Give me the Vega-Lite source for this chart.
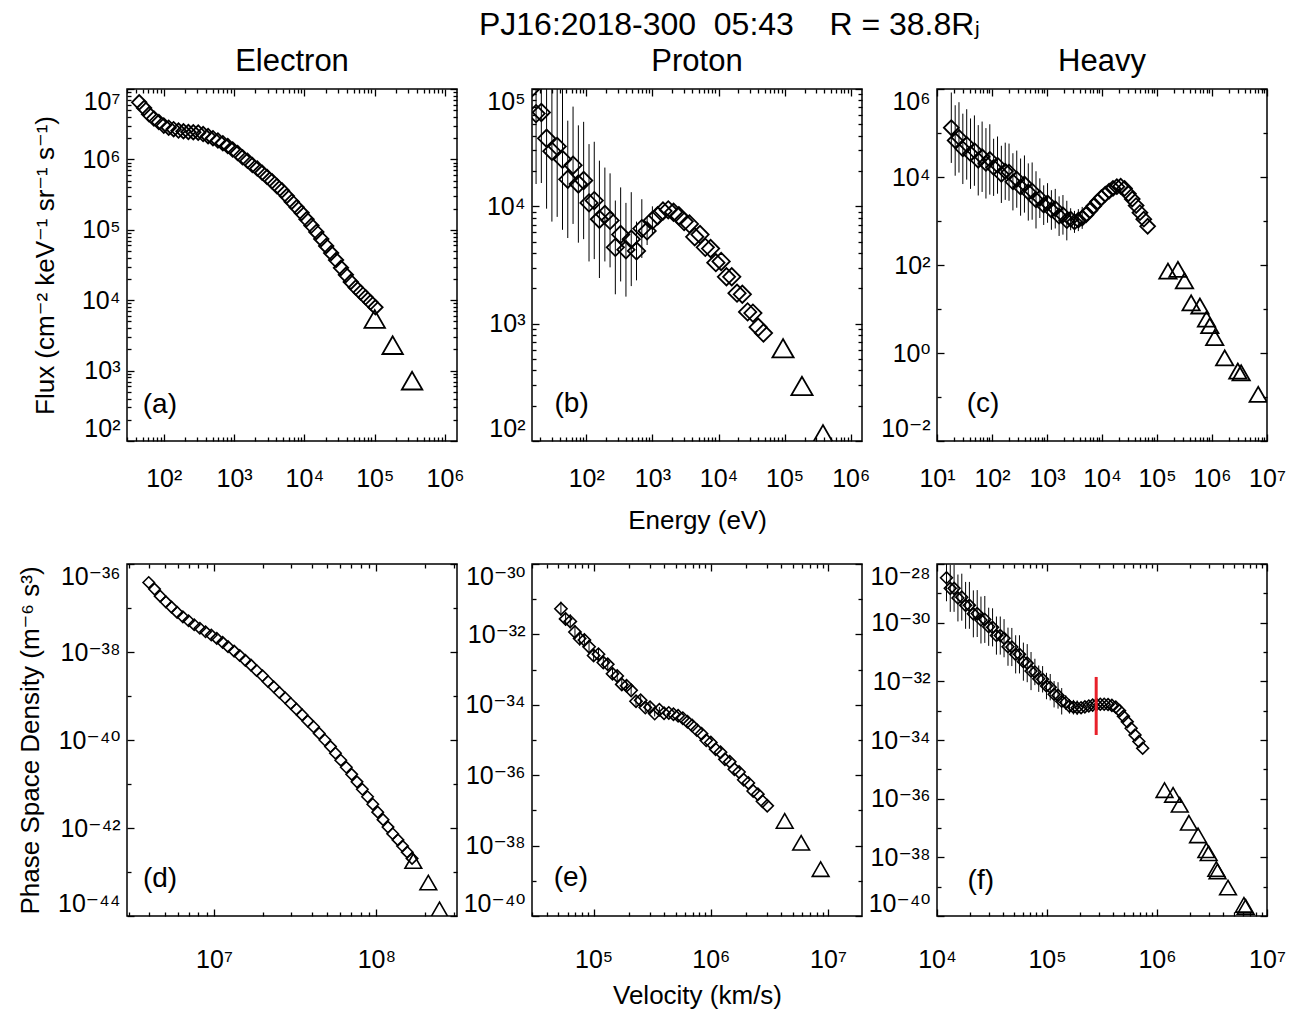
{
"$schema": "https://vega.github.io/schema/vega-lite/v6.json",
"background": "white",
"padding": {"left": 16, "top": 9, "right": 5, "bottom": 5},
"title": {"text": "PJ16:2018-300\u00a0\u00a005:43\u00a0\u00a0\u00a0\u00a0R = 38.8Rⱼ", "fontSize": 32, "fontWeight": "normal", "color": "black", "anchor": "middle", "offset": 3, "dx": 78},
"datasets": {
"el": [
{"E":44.7,"j":6.46e6,"v":3.96e6,"f":3.80e-37},{"E":52.5,"j":5.37e6,"v":4.30e6,"f":2.69e-37},{"E":61.7,"j":4.37e6,"v":4.66e6,"f":1.86e-37},{"E":72.4,"j":3.80e6,"v":5.05e6,"f":1.38e-37},{"E":85.1,"j":3.39e6,"v":5.47e6,"f":1.05e-37},{"E":100,"j":3.02e6,"v":5.93e6,"f":7.94e-38},{"E":117.5,"j":2.82e6,"v":6.43e6,"f":6.31e-38},{"E":138,"j":2.69e6,"v":6.97e6,"f":5.13e-38},{"E":162,"j":2.57e6,"v":7.55e6,"f":4.17e-38},{"E":190.5,"j":2.51e6,"v":8.18e6,"f":3.47e-38},{"E":224,"j":2.45e6,"v":8.87e6,"f":2.88e-38},{"E":263,"j":2.43e6,"v":9.62e6,"f":2.43e-38},{"E":309,"j":2.40e6,"v":1.04e7,"f":2.04e-38},{"E":363,"j":2.29e6,"v":1.13e7,"f":1.66e-38},{"E":427,"j":2.14e6,"v":1.22e7,"f":1.32e-38},{"E":501,"j":2.00e6,"v":1.33e7,"f":1.05e-38},{"E":589,"j":1.86e6,"v":1.44e7,"f":8.32e-39},{"E":692,"j":1.70e6,"v":1.56e7,"f":6.46e-39},{"E":813,"j":1.55e6,"v":1.69e7,"f":5.01e-39},{"E":955,"j":1.38e6,"v":1.83e7,"f":3.80e-39},{"E":1122,"j":1.23e6,"v":1.99e7,"f":2.88e-39},{"E":1318,"j":1.07e6,"v":2.15e7,"f":2.14e-39},{"E":1549,"j":9.55e5,"v":2.33e7,"f":1.62e-39},{"E":1820,"j":8.32e5,"v":2.53e7,"f":1.20e-39},{"E":2138,"j":7.41e5,"v":2.74e7,"f":9.12e-40},{"E":2512,"j":6.46e5,"v":2.97e7,"f":6.76e-40},{"E":2951,"j":5.62e5,"v":3.22e7,"f":5.01e-40},{"E":3467,"j":4.90e5,"v":3.49e7,"f":3.72e-40},{"E":4074,"j":4.17e5,"v":3.78e7,"f":2.69e-40},{"E":4786,"j":3.63e5,"v":4.10e7,"f":2.00e-40},{"E":5623,"j":3.02e5,"v":4.45e7,"f":1.41e-40},{"E":6607,"j":2.51e5,"v":4.82e7,"f":1.00e-40},{"E":7762,"j":2.09e5,"v":5.22e7,"f":7.08e-41},{"E":9120,"j":1.74e5,"v":5.60e7,"f":5.01e-41},{"E":10715,"j":1.41e5,"v":6.04e7,"f":3.47e-41},{"E":12589,"j":1.15e5,"v":6.53e7,"f":2.40e-41},{"E":14791,"j":9.33e4,"v":7.05e7,"f":1.66e-41},{"E":17378,"j":7.41e4,"v":7.60e7,"f":1.12e-41},{"E":20417,"j":5.89e4,"v":8.20e7,"f":7.59e-42},{"E":23988,"j":4.68e4,"v":8.83e7,"f":5.13e-42},{"E":28184,"j":3.72e4,"v":9.51e7,"f":3.47e-42},{"E":33113,"j":2.88e4,"v":1.02e8,"f":2.29e-42},{"E":38905,"j":2.29e4,"v":1.10e8,"f":1.55e-42},{"E":45709,"j":1.82e4,"v":1.18e8,"f":1.05e-42},{"E":53703,"j":1.51e4,"v":1.26e8,"f":7.41e-43},{"E":63096,"j":1.29e4,"v":1.36e8,"f":5.37e-43},{"E":74131,"j":1.10e4,"v":1.45e8,"f":3.89e-43},{"E":87096,"j":9.33e3,"v":1.55e8,"f":2.82e-43},{"E":102329,"j":7.94e3,"v":1.66e8,"f":2.04e-43}
],
"elt": [
{"E":1.0e5,"j":5.4e3,"v":1.69e8,"f":1.78e-43},{"E":1.8e5,"j":2.3e3,"v":2.09e8,"f":5.75e-44},{"E":3.4e5,"j":7.2e2,"v":2.45e8,"f":1.41e-44}
],
"pr": [
{"E":14.5,"j":1.00e5,"jl":2.51e4,"jh":3.98e5,"v":5.26e4,"f":5.37e-32,"fl":3.39e-32,"fh":8.51e-32},
{"E":17.4,"j":6.17e4,"jl":1.55e4,"jh":2.45e5,"v":5.77e4,"f":2.75e-32,"fl":1.74e-32,"fh":4.37e-32},
{"E":20.9,"j":6.31e4,"jl":1.58e4,"jh":2.51e5,"v":6.32e4,"f":2.34e-32,"fl":1.48e-32,"fh":3.72e-32},
{"E":25.1,"j":3.80e4,"jl":9.55e3,"jh":1.51e5,"v":6.93e4,"f":1.17e-32,"fl":7.41e-33,"fh":1.86e-32},
{"E":30.2,"j":2.95e4,"jl":7.41e3,"jh":1.17e5,"v":7.60e4,"f":7.59e-33,"fl":4.79e-33,"fh":1.20e-32},
{"E":36.3,"j":3.24e4,"jl":8.13e3,"jh":1.29e5,"v":8.34e4,"f":6.92e-33,"fl":4.37e-33,"fh":1.10e-32},
{"E":43.7,"j":2.51e4,"jl":6.31e3,"jh":1.00e5,"v":9.14e4,"f":4.47e-33,"fl":2.82e-33,"fh":7.08e-33},
{"E":52.5,"j":1.70e4,"jl":5.37e3,"jh":5.37e4,"v":1.00e5,"f":2.51e-33,"fl":1.70e-33,"fh":3.72e-33},
{"E":63.1,"j":2.24e4,"jl":7.08e3,"jh":7.08e4,"v":1.10e5,"f":2.75e-33,"fl":1.86e-33,"fh":4.07e-33},
{"E":75.9,"j":1.55e4,"jl":4.90e3,"jh":4.90e4,"v":1.21e5,"f":1.58e-33,"fl":1.07e-33,"fh":2.34e-33},
{"E":91.2,"j":1.66e4,"jl":5.25e3,"jh":5.25e4,"v":1.32e5,"f":1.41e-33,"fl":9.55e-34,"fh":2.09e-33},
{"E":110,"j":1.07e4,"jl":3.39e3,"jh":3.39e4,"v":1.45e5,"f":7.59e-34,"fl":5.13e-34,"fh":1.12e-33},
{"E":132,"j":1.12e4,"jl":3.55e3,"jh":3.55e4,"v":1.59e5,"f":6.61e-34,"fl":4.47e-34,"fh":9.77e-34},
{"E":158,"j":7.76e3,"jl":2.45e3,"jh":2.45e4,"v":1.74e5,"f":3.80e-34,"fl":2.57e-34,"fh":5.62e-34},
{"E":191,"j":8.51e3,"jl":3.39e3,"jh":2.14e4,"v":1.91e5,"f":3.47e-34,"fl":2.57e-34,"fh":4.68e-34},
{"E":229,"j":7.59e3,"jl":3.02e3,"jh":1.91e4,"v":2.09e5,"f":2.57e-34,"fl":1.91e-34,"fh":3.47e-34},
{"E":275,"j":4.47e3,"jl":1.78e3,"jh":1.12e4,"v":2.30e5,"f":1.26e-34,"fl":9.33e-35,"fh":1.70e-34},
{"E":331,"j":5.75e3,"jl":2.29e3,"jh":1.45e4,"v":2.52e5,"f":1.35e-34,"fl":1.00e-34,"fh":1.82e-34},
{"E":398,"j":4.27e3,"jl":1.70e3,"jh":1.07e4,"v":2.76e5,"f":8.32e-35,"fl":6.17e-35,"fh":1.12e-34},
{"E":479,"j":5.25e3,"jl":2.09e3,"jh":1.32e4,"v":3.03e5,"f":8.51e-35,"fl":6.31e-35,"fh":1.15e-34},
{"E":575,"j":4.17e3,"jl":2.34e3,"jh":7.41e3,"v":3.32e5,"f":5.62e-35,"fl":4.68e-35,"fh":6.76e-35},
{"E":692,"j":6.46e3,"jl":3.63e3,"jh":1.15e4,"v":3.64e5,"f":7.24e-35,"fl":6.03e-35,"fh":8.71e-35},
{"E":832,"j":6.17e3,"jl":4.68e3,"jh":8.13e3,"v":3.99e5,"f":5.75e-35,"fl":5.13e-35,"fh":6.46e-35},
{"E":1000,"j":7.59e3,"jl":5.75e3,"jh":1.00e4,"v":4.38e5,"f":5.89e-35,"fl":5.25e-35,"fh":6.61e-35},
{"E":1202,"j":8.32e3,"v":4.80e5,"f":5.37e-35},{"E":1445,"j":9.12e3,"v":5.26e5,"f":4.90e-35},{"E":1738,"j":9.33e3,"v":5.77e5,"f":4.17e-35},{"E":2089,"j":8.91e3,"v":6.32e5,"f":3.31e-35},{"E":2512,"j":8.32e3,"v":6.93e5,"f":2.57e-35},{"E":3020,"j":7.41e3,"v":7.60e5,"f":1.91e-35},{"E":3631,"j":7.08e3,"v":8.34e5,"f":1.51e-35},{"E":4365,"j":5.50e3,"v":9.14e5,"f":9.77e-36},{"E":5248,"j":5.75e3,"v":1.00e6,"f":8.51e-36},{"E":6310,"j":4.47e3,"v":1.10e6,"f":5.50e-36},{"E":7586,"j":4.37e3,"v":1.21e6,"f":4.47e-36},{"E":9120,"j":3.31e3,"v":1.32e6,"f":2.82e-36},{"E":10965,"j":3.39e3,"v":1.45e6,"f":2.40e-36},{"E":13183,"j":2.51e3,"v":1.59e6,"f":1.48e-36},{"E":15849,"j":2.51e3,"v":1.74e6,"f":1.23e-36},{"E":19055,"j":1.82e3,"v":1.91e6,"f":7.41e-37},{"E":22909,"j":1.78e3,"v":2.09e6,"f":6.03e-37},{"E":27542,"j":1.26e3,"v":2.30e6,"f":3.55e-37},{"E":33113,"j":1.23e3,"v":2.52e6,"f":2.88e-37},{"E":39811,"j":933,"v":2.76e6,"f":1.82e-37},{"E":47863,"j":832,"v":3.03e6,"f":1.35e-37}
],
"prt": [
{"E":9.46e4,"j":617,"v":4.27e6,"f":5.01e-38},{"E":1.83e5,"j":295,"v":5.90e6,"f":1.20e-38},{"E":3.80e5,"j":114,"v":8.65e6,"f":2.14e-39}
],
"hv": [
{"E":18.2,"j":1.32e5,"jl":2.09e4,"jh":8.32e5,"v":1.22e4,"f":3.39e-29,"fl":5.37e-30,"fh":2.14e-28},
{"E":21.4,"j":6.76e4,"jl":1.07e4,"jh":4.27e5,"v":1.32e4,"f":1.48e-29,"fl":2.34e-30,"fh":9.33e-29},
{"E":25.1,"j":7.94e4,"jl":1.26e4,"jh":5.01e5,"v":1.43e4,"f":1.48e-29,"fl":2.34e-30,"fh":9.33e-29},
{"E":29.5,"j":4.37e4,"jl":6.92e3,"jh":2.75e5,"v":1.55e4,"f":6.92e-30,"fl":1.10e-30,"fh":4.37e-29},
{"E":34.7,"j":5.50e4,"jl":8.71e3,"jh":3.47e5,"v":1.68e4,"f":7.41e-30,"fl":1.17e-30,"fh":4.68e-29},
{"E":40.7,"j":3.39e4,"jl":5.37e3,"jh":2.14e5,"v":1.82e4,"f":3.89e-30,"fl":6.17e-31,"fh":2.45e-29},
{"E":47.9,"j":3.98e4,"jl":6.31e3,"jh":2.51e5,"v":1.97e4,"f":3.89e-30,"fl":6.17e-31,"fh":2.45e-29},
{"E":56.2,"j":2.40e4,"jl":3.80e3,"jh":1.51e5,"v":2.14e4,"f":2.00e-30,"fl":3.16e-31,"fh":1.26e-29},
{"E":66.1,"j":2.88e4,"jl":4.57e3,"jh":1.82e5,"v":2.32e4,"f":2.04e-30,"fl":3.24e-31,"fh":1.29e-29},
{"E":77.6,"j":2.04e4,"jl":3.24e3,"jh":1.29e5,"v":2.51e4,"f":1.23e-30,"fl":1.95e-31,"fh":7.76e-30},
{"E":91.2,"j":2.51e4,"jl":3.98e3,"jh":1.58e5,"v":2.72e4,"f":1.29e-30,"fl":2.04e-31,"fh":8.13e-30},
{"E":107,"j":1.66e4,"jl":3.72e3,"jh":7.41e4,"v":2.95e4,"f":7.24e-31,"fl":1.62e-31,"fh":3.24e-30},
{"E":126,"j":1.86e4,"jl":4.17e3,"jh":8.32e4,"v":3.20e4,"f":6.92e-31,"fl":1.55e-31,"fh":3.09e-30},
{"E":148,"j":1.15e4,"jl":2.57e3,"jh":5.13e4,"v":3.47e4,"f":3.63e-31,"fl":8.13e-32,"fh":1.62e-30},
{"E":174,"j":1.35e4,"jl":3.02e3,"jh":6.03e4,"v":3.76e4,"f":3.63e-31,"fl":8.13e-32,"fh":1.62e-30},
{"E":204,"j":1.29e4,"jl":2.88e3,"jh":5.75e4,"v":4.07e4,"f":2.95e-31,"fl":6.61e-32,"fh":1.32e-30},
{"E":240,"j":7.76e3,"jl":1.74e3,"jh":3.47e4,"v":4.42e4,"f":1.51e-31,"fl":3.39e-32,"fh":6.76e-31},
{"E":282,"j":8.91e3,"jl":2.00e3,"jh":3.98e4,"v":4.79e4,"f":1.48e-31,"fl":3.31e-32,"fh":6.61e-31},
{"E":331,"j":5.89e3,"jl":1.32e3,"jh":2.63e4,"v":5.19e4,"f":8.32e-32,"fl":1.86e-32,"fh":3.72e-31},
{"E":389,"j":6.92e3,"jl":1.55e3,"jh":3.09e4,"v":5.62e4,"f":8.32e-32,"fl":1.86e-32,"fh":3.72e-31},
{"E":457,"j":4.57e3,"jl":1.02e3,"jh":2.04e4,"v":6.10e4,"f":4.68e-32,"fl":1.05e-32,"fh":2.09e-31},
{"E":537,"j":4.79e3,"jl":1.07e3,"jh":2.14e4,"v":6.61e4,"f":4.17e-32,"fl":9.33e-33,"fh":1.86e-31},
{"E":631,"j":3.02e3,"jl":676,"jh":1.35e4,"v":7.16e4,"f":2.24e-32,"fl":5.01e-33,"fh":1.00e-31},
{"E":741,"j":3.31e3,"jl":1.17e3,"jh":9.33e3,"v":7.76e4,"f":2.09e-32,"fl":7.41e-33,"fh":5.89e-32},
{"E":871,"j":2.29e3,"jl":813,"jh":6.46e3,"v":8.41e4,"f":1.23e-32,"fl":4.37e-33,"fh":3.47e-32},
{"E":1023,"j":2.57e3,"jl":912,"jh":7.24e3,"v":9.12e4,"f":1.17e-32,"fl":4.17e-33,"fh":3.31e-32},
{"E":1202,"j":1.78e3,"jl":631,"jh":5.01e3,"v":9.89e4,"f":6.92e-33,"fl":2.45e-33,"fh":1.95e-32},
{"E":1413,"j":1.91e3,"jl":676,"jh":5.37e3,"v":1.07e5,"f":6.31e-33,"fl":2.24e-33,"fh":1.78e-32},
{"E":1660,"j":1.29e3,"jl":457,"jh":3.63e3,"v":1.16e5,"f":3.63e-33,"fl":1.29e-33,"fh":1.02e-32},
{"E":1950,"j":1.38e3,"jl":490,"jh":3.89e3,"v":1.26e5,"f":3.31e-33,"fl":1.17e-33,"fh":9.33e-33},
{"E":2291,"j":1.02e3,"jl":363,"jh":2.88e3,"v":1.36e5,"f":2.09e-33,"fl":7.41e-34,"fh":5.89e-33},
{"E":2692,"j":1.10e3,"jl":617,"jh":1.95e3,"v":1.48e5,"f":1.91e-33,"fl":1.07e-33,"fh":3.39e-33},
{"E":3162,"j":955,"jl":537,"jh":1.70e3,"v":1.60e5,"f":1.41e-33,"fl":7.94e-34,"fh":2.51e-33},
{"E":3715,"j":1.05e3,"jl":589,"jh":1.86e3,"v":1.74e5,"f":1.32e-33,"fl":7.41e-34,"fh":2.34e-33},
{"E":4365,"j":1.17e3,"jl":661,"jh":2.09e3,"v":1.88e5,"f":1.26e-33,"fl":7.08e-34,"fh":2.24e-33},
{"E":5129,"j":1.38e3,"v":2.04e5,"f":1.26e-33},{"E":6026,"j":1.74e3,"v":2.21e5,"f":1.35e-33},{"E":7079,"j":2.19e3,"v":2.40e5,"f":1.45e-33},{"E":8318,"j":2.75e3,"v":2.60e5,"f":1.55e-33},{"E":9772,"j":3.39e3,"v":2.82e5,"f":1.62e-33},{"E":11482,"j":4.07e3,"v":3.05e5,"f":1.66e-33},{"E":13490,"j":4.79e3,"v":3.31e5,"f":1.66e-33},{"E":15849,"j":5.50e3,"v":3.59e5,"f":1.62e-33},{"E":18621,"j":6.03e3,"v":3.89e5,"f":1.51e-33},{"E":21878,"j":6.17e3,"v":4.22e5,"f":1.32e-33},{"E":25704,"j":5.50e3,"v":4.57e5,"f":1.00e-33},{"E":30200,"j":4.17e3,"v":4.95e5,"f":6.46e-34},{"E":35481,"j":3.16e3,"v":5.37e5,"f":4.17e-34},{"E":41687,"j":2.24e3,"v":5.82e5,"f":2.51e-34},{"E":48978,"j":1.55e3,"v":6.31e5,"f":1.48e-34},{"E":57544,"j":1.10e3,"v":6.84e5,"f":8.91e-35},{"E":67608,"j":759,"v":7.41e5,"f":5.25e-35}
],
"hvt": [
{"E":1.58e5,"j":72.4,"v":1.17e6,"f":1.95e-36},{"E":2.40e5,"j":79.4,"v":1.40e6,"f":1.35e-36},{"E":3.16e5,"j":43.7,"v":1.61e6,"f":6.17e-37},{"E":4.17e5,"j":13.8,"v":1.95e6,"f":1.51e-37},{"E":6.03e5,"j":11.7,"v":2.36e6,"f":5.62e-38},{"E":7.94e5,"j":5.89,"v":2.81e6,"f":1.74e-38},{"E":9.12e5,"j":4.17,"v":2.95e6,"f":1.38e-38},{"E":1.12e6,"j":2.24,"v":3.46e6,"f":3.98e-39},{"E":1.70e6,"j":0.776,"v":3.55e6,"f":3.31e-39},{"E":2.95e6,"j":0.389,"v":4.42e6,"f":9.33e-40},{"E":3.39e6,"j":0.355,"v":6.17e6,"f":2.40e-40},{"E":6.92e6,"j":0.115,"v":6.40e6,"f":2.04e-40}
],
"lab": [
{"p":"a","t":"(a)","x":88,"y":320},{"p":"b","t":"(b)","x":60,"y":205},{"p":"c","t":"(c)","x":68.5,"y":0.069},{"p":"d","t":"(d)","x":4.65e6,"y":6.9e-44},{"p":"e","t":"(e)","x":6.4e4,"y":1.2e-39},{"p":"f","t":"(f)","x":2.5e4,"y":1.6e-39}
],
"red": [{"v":2.8e5,"a":1.41e-32,"b":1.48e-34}]
},
"columns": 3,
"spacing": {"row": 123, "column": 75},
"bounds": "flush",
"concat": [
{
"width":330,"height":352,"title":{"text":"Electron","offset":2},
"layer":[
{"data":{"name":"el"},"mark":{"type":"point","shape":"diamond","size":210,"strokeWidth":1.8,"color":"black","opacity":1,"clip":true},
"encoding":{
"x":{"field":"E","type":"quantitative","scale":{"type":"log","domain":[30,1480000],"nice":false},
"axis":{"orient":"bottom","values":[30,40,50,60,70,80,90,100,200,300,400,500,600,700,800,900,1000,2000,3000,4000,5000,6000,7000,8000,9000,1e4,2e4,3e4,4e4,5e4,6e4,7e4,8e4,9e4,1e5,2e5,3e5,4e5,5e5,6e5,7e5,8e5,9e5,1e6],
"labelExpr":"abs(log(datum.value)/LN10-round(log(datum.value)/LN10))<0.01?'10'+replace(replace(replace(replace(replace(replace(replace(replace(replace(replace(replace(''+round(log(datum.value)/LN10),regexp('-','g'),'⁻'),regexp('0','g'),'⁰'),regexp('1','g'),'¹'),regexp('2','g'),'²'),regexp('3','g'),'³'),regexp('4','g'),'⁴'),regexp('5','g'),'⁵'),regexp('6','g'),'⁶'),regexp('7','g'),'⁷'),regexp('8','g'),'⁸'),regexp('9','g'),'⁹'):''",
"tickSize":{"condition":{"test":"abs(log(datum.value)/LN10-round(log(datum.value)/LN10))<0.01","value":-7},"value":-4},"labelPadding":32,"labelFlush":false,"title":null}},
"y":{"field":"j","type":"quantitative","scale":{"type":"log","domain":[100,1e7],"nice":false},
"axis":{"orient":"left","values":[100,200,300,400,500,600,700,800,900,1000,2000,3000,4000,5000,6000,7000,8000,9000,1e4,2e4,3e4,4e4,5e4,6e4,7e4,8e4,9e4,1e5,2e5,3e5,4e5,5e5,6e5,7e5,8e5,9e5,1e6,2e6,3e6,4e6,5e6,6e6,7e6,8e6,9e6,1e7],
"labelExpr":"abs(log(datum.value)/LN10-round(log(datum.value)/LN10))<0.01?'10'+replace(replace(replace(replace(replace(replace(replace(replace(replace(replace(replace(''+round(log(datum.value)/LN10),regexp('-','g'),'⁻'),regexp('0','g'),'⁰'),regexp('1','g'),'¹'),regexp('2','g'),'²'),regexp('3','g'),'³'),regexp('4','g'),'⁴'),regexp('5','g'),'⁵'),regexp('6','g'),'⁶'),regexp('7','g'),'⁷'),regexp('8','g'),'⁸'),regexp('9','g'),'⁹'):''",
"tickSize":{"condition":{"test":"abs(log(datum.value)/LN10-round(log(datum.value)/LN10))<0.01","value":-7},"value":-4},"labelPadding":14,"labelFlush":true,"title":"Flux (cm⁻² keV⁻¹ sr⁻¹ s⁻¹)","titlePadding":23}}}},
{"data":{"name":"elt"},"mark":{"type":"point","shape":"triangle-up","size":420,"strokeWidth":1.8,"color":"black","opacity":1,"clip":true},
"encoding":{
"x":{"field":"E","type":"quantitative","scale":{"type":"log","domain":[30,1480000],"nice":false},
"axis":{"orient":"top","values":[30,40,50,60,70,80,90,100,200,300,400,500,600,700,800,900,1000,2000,3000,4000,5000,6000,7000,8000,9000,1e4,2e4,3e4,4e4,5e4,6e4,7e4,8e4,9e4,1e5,2e5,3e5,4e5,5e5,6e5,7e5,8e5,9e5,1e6],"labels":false,
"tickSize":{"condition":{"test":"abs(log(datum.value)/LN10-round(log(datum.value)/LN10))<0.01","value":-7},"value":-4},"title":null}},
"y":{"field":"j","type":"quantitative","scale":{"type":"log","domain":[100,1e7],"nice":false},
"axis":{"orient":"right","values":[100,200,300,400,500,600,700,800,900,1000,2000,3000,4000,5000,6000,7000,8000,9000,1e4,2e4,3e4,4e4,5e4,6e4,7e4,8e4,9e4,1e5,2e5,3e5,4e5,5e5,6e5,7e5,8e5,9e5,1e6,2e6,3e6,4e6,5e6,6e6,7e6,8e6,9e6,1e7],"labels":false,
"tickSize":{"condition":{"test":"abs(log(datum.value)/LN10-round(log(datum.value)/LN10))<0.01","value":-7},"value":-4},"title":null}}}},
{"data":{"name":"lab"},"transform":[{"filter":"datum.p=='a'"}],"mark":{"type":"text","fontSize":28,"color":"black"},
"encoding":{"x":{"field":"x","type":"quantitative","scale":{"type":"log","domain":[30,1480000],"nice":false},"axis":null},"y":{"field":"y","type":"quantitative","scale":{"type":"log","domain":[100,1e7],"nice":false},"axis":null},"text":{"field":"t"}}}
],
"resolve":{"axis":{"x":"independent","y":"independent"}}
},
{
"width":330,"height":352,"title":{"text":"Proton","offset":4},
"layer":[
{"data":{"name":"pr"},"transform":[{"filter":"isValid(datum.jl)"}],"mark":{"type":"rule","color":"black","strokeWidth":1,"clip":true},
"encoding":{"x":{"field":"E","type":"quantitative","scale":{"type":"log","domain":[15.1,1480000],"nice":false},"axis":null},"y":{"field":"jl","type":"quantitative","scale":{"type":"log","domain":[100,1e5],"nice":false},"axis":null},"y2":{"field":"jh"}}},
{"data":{"name":"pr"},"mark":{"type":"point","shape":"diamond","size":300,"strokeWidth":1.8,"color":"black","opacity":1,"clip":true},
"encoding":{
"x":{"field":"E","type":"quantitative","scale":{"type":"log","domain":[15.1,1480000],"nice":false},
"axis":{"orient":"bottom","values":[20,30,40,50,60,70,80,90,100,200,300,400,500,600,700,800,900,1000,2000,3000,4000,5000,6000,7000,8000,9000,1e4,2e4,3e4,4e4,5e4,6e4,7e4,8e4,9e4,1e5,2e5,3e5,4e5,5e5,6e5,7e5,8e5,9e5,1e6],
"labelExpr":"abs(log(datum.value)/LN10-round(log(datum.value)/LN10))<0.01?'10'+replace(replace(replace(replace(replace(replace(replace(replace(replace(replace(replace(''+round(log(datum.value)/LN10),regexp('-','g'),'⁻'),regexp('0','g'),'⁰'),regexp('1','g'),'¹'),regexp('2','g'),'²'),regexp('3','g'),'³'),regexp('4','g'),'⁴'),regexp('5','g'),'⁵'),regexp('6','g'),'⁶'),regexp('7','g'),'⁷'),regexp('8','g'),'⁸'),regexp('9','g'),'⁹'):''",
"tickSize":{"condition":{"test":"abs(log(datum.value)/LN10-round(log(datum.value)/LN10))<0.01","value":-7},"value":-4},"labelPadding":32,"labelFlush":false,"title":"Energy (eV)","titlePadding":13}},
"y":{"field":"j","type":"quantitative","scale":{"type":"log","domain":[100,1e5],"nice":false},
"axis":{"orient":"left","values":[100,200,300,400,500,600,700,800,900,1000,2000,3000,4000,5000,6000,7000,8000,9000,1e4,2e4,3e4,4e4,5e4,6e4,7e4,8e4,9e4,1e5],
"labelExpr":"abs(log(datum.value)/LN10-round(log(datum.value)/LN10))<0.01?'10'+replace(replace(replace(replace(replace(replace(replace(replace(replace(replace(replace(''+round(log(datum.value)/LN10),regexp('-','g'),'⁻'),regexp('0','g'),'⁰'),regexp('1','g'),'¹'),regexp('2','g'),'²'),regexp('3','g'),'³'),regexp('4','g'),'⁴'),regexp('5','g'),'⁵'),regexp('6','g'),'⁶'),regexp('7','g'),'⁷'),regexp('8','g'),'⁸'),regexp('9','g'),'⁹'):''",
"tickSize":{"condition":{"test":"abs(log(datum.value)/LN10-round(log(datum.value)/LN10))<0.01","value":-7},"value":-4},"labelPadding":14,"labelFlush":true,"title":null}}}},
{"data":{"name":"prt"},"mark":{"type":"point","shape":"triangle-up","size":450,"strokeWidth":1.8,"color":"black","opacity":1,"clip":true},
"encoding":{
"x":{"field":"E","type":"quantitative","scale":{"type":"log","domain":[15.1,1480000],"nice":false},
"axis":{"orient":"top","values":[20,30,40,50,60,70,80,90,100,200,300,400,500,600,700,800,900,1000,2000,3000,4000,5000,6000,7000,8000,9000,1e4,2e4,3e4,4e4,5e4,6e4,7e4,8e4,9e4,1e5,2e5,3e5,4e5,5e5,6e5,7e5,8e5,9e5,1e6],"labels":false,
"tickSize":{"condition":{"test":"abs(log(datum.value)/LN10-round(log(datum.value)/LN10))<0.01","value":-7},"value":-4},"title":null}},
"y":{"field":"j","type":"quantitative","scale":{"type":"log","domain":[100,1e5],"nice":false},
"axis":{"orient":"right","values":[100,200,300,400,500,600,700,800,900,1000,2000,3000,4000,5000,6000,7000,8000,9000,1e4,2e4,3e4,4e4,5e4,6e4,7e4,8e4,9e4,1e5],"labels":false,
"tickSize":{"condition":{"test":"abs(log(datum.value)/LN10-round(log(datum.value)/LN10))<0.01","value":-7},"value":-4},"title":null}}}},
{"data":{"name":"lab"},"transform":[{"filter":"datum.p=='b'"}],"mark":{"type":"text","fontSize":28,"color":"black"},
"encoding":{"x":{"field":"x","type":"quantitative","scale":{"type":"log","domain":[15.1,1480000],"nice":false},"axis":null},"y":{"field":"y","type":"quantitative","scale":{"type":"log","domain":[100,1e5],"nice":false},"axis":null},"text":{"field":"t"}}}
],
"resolve":{"axis":{"x":"independent","y":"independent"}}
},
{
"width":330,"height":352,"title":{"text":"Heavy","offset":10},
"layer":[
{"data":{"name":"hv"},"transform":[{"filter":"isValid(datum.jl)"}],"mark":{"type":"rule","color":"black","strokeWidth":1,"clip":true},
"encoding":{"x":{"field":"E","type":"quantitative","scale":{"type":"log","domain":[10,1e7],"nice":false},"axis":null},"y":{"field":"jl","type":"quantitative","scale":{"type":"log","domain":[0.01,1e6],"nice":false},"axis":null},"y2":{"field":"jh"}}},
{"data":{"name":"hv"},"mark":{"type":"point","shape":"diamond","size":220,"strokeWidth":1.8,"color":"black","opacity":1,"clip":true},
"encoding":{
"x":{"field":"E","type":"quantitative","scale":{"type":"log","domain":[10,1e7],"nice":false},
"axis":{"orient":"bottom","values":[10,20,30,40,50,60,70,80,90,100,200,300,400,500,600,700,800,900,1000,2000,3000,4000,5000,6000,7000,8000,9000,1e4,2e4,3e4,4e4,5e4,6e4,7e4,8e4,9e4,1e5,2e5,3e5,4e5,5e5,6e5,7e5,8e5,9e5,1e6,2e6,3e6,4e6,5e6,6e6,7e6,8e6,9e6,1e7],
"labelExpr":"abs(log(datum.value)/LN10-round(log(datum.value)/LN10))<0.01?'10'+replace(replace(replace(replace(replace(replace(replace(replace(replace(replace(replace(''+round(log(datum.value)/LN10),regexp('-','g'),'⁻'),regexp('0','g'),'⁰'),regexp('1','g'),'¹'),regexp('2','g'),'²'),regexp('3','g'),'³'),regexp('4','g'),'⁴'),regexp('5','g'),'⁵'),regexp('6','g'),'⁶'),regexp('7','g'),'⁷'),regexp('8','g'),'⁸'),regexp('9','g'),'⁹'):''",
"tickSize":{"condition":{"test":"abs(log(datum.value)/LN10-round(log(datum.value)/LN10))<0.01","value":-7},"value":-4},"labelPadding":32,"labelFlush":false,"title":null}},
"y":{"field":"j","type":"quantitative","scale":{"type":"log","domain":[0.01,1e6],"nice":false},
"axis":{"orient":"left","values":[0.01,0.1,1,10,100,1000,1e4,1e5,1e6],
"labelExpr":"abs(round(log(datum.value)/LN10)%2)<0.5?'10'+replace(replace(replace(replace(replace(replace(replace(replace(replace(replace(replace(''+round(log(datum.value)/LN10),regexp('-','g'),'⁻'),regexp('0','g'),'⁰'),regexp('1','g'),'¹'),regexp('2','g'),'²'),regexp('3','g'),'³'),regexp('4','g'),'⁴'),regexp('5','g'),'⁵'),regexp('6','g'),'⁶'),regexp('7','g'),'⁷'),regexp('8','g'),'⁸'),regexp('9','g'),'⁹'):''",
"tickSize":{"condition":{"test":"abs(round(log(datum.value)/LN10)%2)<0.5","value":-7},"value":-4},"labelPadding":14,"labelFlush":true,"title":null}}}},
{"data":{"name":"hvt"},"mark":{"type":"point","shape":"triangle-up","size":300,"strokeWidth":1.8,"color":"black","opacity":1,"clip":true},
"encoding":{
"x":{"field":"E","type":"quantitative","scale":{"type":"log","domain":[10,1e7],"nice":false},
"axis":{"orient":"top","values":[10,20,30,40,50,60,70,80,90,100,200,300,400,500,600,700,800,900,1000,2000,3000,4000,5000,6000,7000,8000,9000,1e4,2e4,3e4,4e4,5e4,6e4,7e4,8e4,9e4,1e5,2e5,3e5,4e5,5e5,6e5,7e5,8e5,9e5,1e6,2e6,3e6,4e6,5e6,6e6,7e6,8e6,9e6,1e7],"labels":false,
"tickSize":{"condition":{"test":"abs(log(datum.value)/LN10-round(log(datum.value)/LN10))<0.01","value":-7},"value":-4},"title":null}},
"y":{"field":"j","type":"quantitative","scale":{"type":"log","domain":[0.01,1e6],"nice":false},
"axis":{"orient":"right","values":[0.01,0.1,1,10,100,1000,1e4,1e5,1e6],"labels":false,
"tickSize":{"condition":{"test":"abs(round(log(datum.value)/LN10)%2)<0.5","value":-7},"value":-4},"title":null}}}},
{"data":{"name":"lab"},"transform":[{"filter":"datum.p=='c'"}],"mark":{"type":"text","fontSize":28,"color":"black"},
"encoding":{"x":{"field":"x","type":"quantitative","scale":{"type":"log","domain":[10,1e7],"nice":false},"axis":null},"y":{"field":"y","type":"quantitative","scale":{"type":"log","domain":[0.01,1e6],"nice":false},"axis":null},"text":{"field":"t"}}}
],
"resolve":{"axis":{"x":"independent","y":"independent"}}
},
{
"width":330,"height":352,
"layer":[
{"data":{"name":"el"},"mark":{"type":"point","shape":"diamond","size":130,"strokeWidth":1.6,"color":"black","opacity":1,"clip":true},
"encoding":{
"x":{"field":"v","type":"quantitative","scale":{"type":"log","domain":[2.91e6,3.14e8],"nice":false},
"axis":{"orient":"bottom","values":[3e6,4e6,5e6,6e6,7e6,8e6,9e6,1e7,2e7,3e7,4e7,5e7,6e7,7e7,8e7,9e7,1e8,2e8,3e8],
"labelExpr":"abs(log(datum.value)/LN10-round(log(datum.value)/LN10))<0.01?'10'+replace(replace(replace(replace(replace(replace(replace(replace(replace(replace(replace(''+round(log(datum.value)/LN10),regexp('-','g'),'⁻'),regexp('0','g'),'⁰'),regexp('1','g'),'¹'),regexp('2','g'),'²'),regexp('3','g'),'³'),regexp('4','g'),'⁴'),regexp('5','g'),'⁵'),regexp('6','g'),'⁶'),regexp('7','g'),'⁷'),regexp('8','g'),'⁸'),regexp('9','g'),'⁹'):''",
"tickSize":{"condition":{"test":"abs(log(datum.value)/LN10-round(log(datum.value)/LN10))<0.01","value":-7},"value":-4},"labelPadding":38,"labelFlush":false,"title":null}},
"y":{"field":"f","type":"quantitative","scale":{"type":"log","domain":[1e-44,1e-36],"nice":false},
"axis":{"orient":"left","values":[1e-44,1e-43,1e-42,1e-41,1e-40,1e-39,1e-38,1e-37,1e-36],
"labelExpr":"abs(round(log(datum.value)/LN10)%2)<0.5?'10'+replace(replace(replace(replace(replace(replace(replace(replace(replace(replace(replace(''+round(log(datum.value)/LN10),regexp('-','g'),'⁻'),regexp('0','g'),'⁰'),regexp('1','g'),'¹'),regexp('2','g'),'²'),regexp('3','g'),'³'),regexp('4','g'),'⁴'),regexp('5','g'),'⁵'),regexp('6','g'),'⁶'),regexp('7','g'),'⁷'),regexp('8','g'),'⁸'),regexp('9','g'),'⁹'):''",
"tickSize":{"condition":{"test":"abs(round(log(datum.value)/LN10)%2)<0.5","value":-7},"value":-4},"labelPadding":14,"labelFlush":true,"title":"Phase Space Density (m⁻⁶ s³)","titlePadding":14}}}},
{"data":{"name":"elt"},"mark":{"type":"point","shape":"triangle-up","size":280,"strokeWidth":1.6,"color":"black","opacity":1,"clip":true},
"encoding":{
"x":{"field":"v","type":"quantitative","scale":{"type":"log","domain":[2.91e6,3.14e8],"nice":false},
"axis":{"orient":"top","values":[3e6,4e6,5e6,6e6,7e6,8e6,9e6,1e7,2e7,3e7,4e7,5e7,6e7,7e7,8e7,9e7,1e8,2e8,3e8],"labels":false,
"tickSize":{"condition":{"test":"abs(log(datum.value)/LN10-round(log(datum.value)/LN10))<0.01","value":-7},"value":-4},"title":null}},
"y":{"field":"f","type":"quantitative","scale":{"type":"log","domain":[1e-44,1e-36],"nice":false},
"axis":{"orient":"right","values":[1e-44,1e-43,1e-42,1e-41,1e-40,1e-39,1e-38,1e-37,1e-36],"labels":false,
"tickSize":{"condition":{"test":"abs(round(log(datum.value)/LN10)%2)<0.5","value":-7},"value":-4},"title":null}}}},
{"data":{"name":"lab"},"transform":[{"filter":"datum.p=='d'"}],"mark":{"type":"text","fontSize":28,"color":"black"},
"encoding":{"x":{"field":"x","type":"quantitative","scale":{"type":"log","domain":[2.91e6,3.14e8],"nice":false},"axis":null},"y":{"field":"y","type":"quantitative","scale":{"type":"log","domain":[1e-44,1e-36],"nice":false},"axis":null},"text":{"field":"t"}}}
],
"resolve":{"axis":{"x":"independent","y":"independent"}}
},
{
"width":330,"height":352,
"layer":[
{"data":{"name":"pr"},"transform":[{"filter":"isValid(datum.fl)"}],"mark":{"type":"rule","color":"black","strokeWidth":1,"clip":true},
"encoding":{"x":{"field":"v","type":"quantitative","scale":{"type":"log","domain":[2.98e4,1.95e7],"nice":false},"axis":null},"y":{"field":"fl","type":"quantitative","scale":{"type":"log","domain":[1e-40,1e-30],"nice":false},"axis":null},"y2":{"field":"fh"}}},
{"data":{"name":"pr"},"mark":{"type":"point","shape":"diamond","size":150,"strokeWidth":1.6,"color":"black","opacity":1,"clip":true},
"encoding":{
"x":{"field":"v","type":"quantitative","scale":{"type":"log","domain":[2.98e4,1.95e7],"nice":false},
"axis":{"orient":"bottom","values":[3e4,4e4,5e4,6e4,7e4,8e4,9e4,1e5,2e5,3e5,4e5,5e5,6e5,7e5,8e5,9e5,1e6,2e6,3e6,4e6,5e6,6e6,7e6,8e6,9e6,1e7],
"labelExpr":"abs(log(datum.value)/LN10-round(log(datum.value)/LN10))<0.01?'10'+replace(replace(replace(replace(replace(replace(replace(replace(replace(replace(replace(''+round(log(datum.value)/LN10),regexp('-','g'),'⁻'),regexp('0','g'),'⁰'),regexp('1','g'),'¹'),regexp('2','g'),'²'),regexp('3','g'),'³'),regexp('4','g'),'⁴'),regexp('5','g'),'⁵'),regexp('6','g'),'⁶'),regexp('7','g'),'⁷'),regexp('8','g'),'⁸'),regexp('9','g'),'⁹'):''",
"tickSize":{"condition":{"test":"abs(log(datum.value)/LN10-round(log(datum.value)/LN10))<0.01","value":-7},"value":-4},"labelPadding":38,"labelFlush":false,"title":"Velocity (km/s)","titlePadding":7}},
"y":{"field":"f","type":"quantitative","scale":{"type":"log","domain":[1e-40,1e-30],"nice":false},
"axis":{"orient":"left","values":[1e-40,1e-39,1e-38,1e-37,1e-36,1e-35,1e-34,1e-33,1e-32,1e-31,1e-30],
"labelExpr":"abs(round(log(datum.value)/LN10)%2)<0.5?'10'+replace(replace(replace(replace(replace(replace(replace(replace(replace(replace(replace(''+round(log(datum.value)/LN10),regexp('-','g'),'⁻'),regexp('0','g'),'⁰'),regexp('1','g'),'¹'),regexp('2','g'),'²'),regexp('3','g'),'³'),regexp('4','g'),'⁴'),regexp('5','g'),'⁵'),regexp('6','g'),'⁶'),regexp('7','g'),'⁷'),regexp('8','g'),'⁸'),regexp('9','g'),'⁹'):''",
"tickSize":{"condition":{"test":"abs(round(log(datum.value)/LN10)%2)<0.5","value":-7},"value":-4},"labelPadding":14,"labelFlush":true,"title":null}}}},
{"data":{"name":"prt"},"mark":{"type":"point","shape":"triangle-up","size":280,"strokeWidth":1.6,"color":"black","opacity":1,"clip":true},
"encoding":{
"x":{"field":"v","type":"quantitative","scale":{"type":"log","domain":[2.98e4,1.95e7],"nice":false},
"axis":{"orient":"top","values":[3e4,4e4,5e4,6e4,7e4,8e4,9e4,1e5,2e5,3e5,4e5,5e5,6e5,7e5,8e5,9e5,1e6,2e6,3e6,4e6,5e6,6e6,7e6,8e6,9e6,1e7],"labels":false,
"tickSize":{"condition":{"test":"abs(log(datum.value)/LN10-round(log(datum.value)/LN10))<0.01","value":-7},"value":-4},"title":null}},
"y":{"field":"f","type":"quantitative","scale":{"type":"log","domain":[1e-40,1e-30],"nice":false},
"axis":{"orient":"right","values":[1e-40,1e-39,1e-38,1e-37,1e-36,1e-35,1e-34,1e-33,1e-32,1e-31,1e-30],"labels":false,
"tickSize":{"condition":{"test":"abs(round(log(datum.value)/LN10)%2)<0.5","value":-7},"value":-4},"title":null}}}},
{"data":{"name":"lab"},"transform":[{"filter":"datum.p=='e'"}],"mark":{"type":"text","fontSize":28,"color":"black"},
"encoding":{"x":{"field":"x","type":"quantitative","scale":{"type":"log","domain":[2.98e4,1.95e7],"nice":false},"axis":null},"y":{"field":"y","type":"quantitative","scale":{"type":"log","domain":[1e-40,1e-30],"nice":false},"axis":null},"text":{"field":"t"}}}
],
"resolve":{"axis":{"x":"independent","y":"independent"}}
},
{
"width":330,"height":352,
"layer":[
{"data":{"name":"hv"},"transform":[{"filter":"isValid(datum.fl)"}],"mark":{"type":"rule","color":"black","strokeWidth":1,"clip":true},
"encoding":{"x":{"field":"v","type":"quantitative","scale":{"type":"log","domain":[1e4,1e7],"nice":false},"axis":null},"y":{"field":"fl","type":"quantitative","scale":{"type":"log","domain":[1e-40,1e-28],"nice":false},"axis":null},"y2":{"field":"fh"}}},
{"data":{"name":"hv"},"mark":{"type":"point","shape":"diamond","size":140,"strokeWidth":1.6,"color":"black","opacity":1,"clip":true},
"encoding":{
"x":{"field":"v","type":"quantitative","scale":{"type":"log","domain":[1e4,1e7],"nice":false},
"axis":{"orient":"bottom","values":[1e4,2e4,3e4,4e4,5e4,6e4,7e4,8e4,9e4,1e5,2e5,3e5,4e5,5e5,6e5,7e5,8e5,9e5,1e6,2e6,3e6,4e6,5e6,6e6,7e6,8e6,9e6,1e7],
"labelExpr":"abs(log(datum.value)/LN10-round(log(datum.value)/LN10))<0.01?'10'+replace(replace(replace(replace(replace(replace(replace(replace(replace(replace(replace(''+round(log(datum.value)/LN10),regexp('-','g'),'⁻'),regexp('0','g'),'⁰'),regexp('1','g'),'¹'),regexp('2','g'),'²'),regexp('3','g'),'³'),regexp('4','g'),'⁴'),regexp('5','g'),'⁵'),regexp('6','g'),'⁶'),regexp('7','g'),'⁷'),regexp('8','g'),'⁸'),regexp('9','g'),'⁹'):''",
"tickSize":{"condition":{"test":"abs(log(datum.value)/LN10-round(log(datum.value)/LN10))<0.01","value":-7},"value":-4},"labelPadding":38,"labelFlush":false,"title":null}},
"y":{"field":"f","type":"quantitative","scale":{"type":"log","domain":[1e-40,1e-28],"nice":false},
"axis":{"orient":"left","values":[1e-40,1e-39,1e-38,1e-37,1e-36,1e-35,1e-34,1e-33,1e-32,1e-31,1e-30,1e-29,1e-28],
"labelExpr":"abs(round(log(datum.value)/LN10)%2)<0.5?'10'+replace(replace(replace(replace(replace(replace(replace(replace(replace(replace(replace(''+round(log(datum.value)/LN10),regexp('-','g'),'⁻'),regexp('0','g'),'⁰'),regexp('1','g'),'¹'),regexp('2','g'),'²'),regexp('3','g'),'³'),regexp('4','g'),'⁴'),regexp('5','g'),'⁵'),regexp('6','g'),'⁶'),regexp('7','g'),'⁷'),regexp('8','g'),'⁸'),regexp('9','g'),'⁹'):''",
"tickSize":{"condition":{"test":"abs(round(log(datum.value)/LN10)%2)<0.5","value":-7},"value":-4},"labelPadding":14,"labelFlush":true,"title":null}}}},
{"data":{"name":"hvt"},"mark":{"type":"point","shape":"triangle-up","size":280,"strokeWidth":1.6,"color":"black","opacity":1,"clip":true},
"encoding":{
"x":{"field":"v","type":"quantitative","scale":{"type":"log","domain":[1e4,1e7],"nice":false},
"axis":{"orient":"top","values":[1e4,2e4,3e4,4e4,5e4,6e4,7e4,8e4,9e4,1e5,2e5,3e5,4e5,5e5,6e5,7e5,8e5,9e5,1e6,2e6,3e6,4e6,5e6,6e6,7e6,8e6,9e6,1e7],"labels":false,
"tickSize":{"condition":{"test":"abs(log(datum.value)/LN10-round(log(datum.value)/LN10))<0.01","value":-7},"value":-4},"title":null}},
"y":{"field":"f","type":"quantitative","scale":{"type":"log","domain":[1e-40,1e-28],"nice":false},
"axis":{"orient":"right","values":[1e-40,1e-39,1e-38,1e-37,1e-36,1e-35,1e-34,1e-33,1e-32,1e-31,1e-30,1e-29,1e-28],"labels":false,
"tickSize":{"condition":{"test":"abs(round(log(datum.value)/LN10)%2)<0.5","value":-7},"value":-4},"title":null}}}},
{"data":{"name":"red"},"mark":{"type":"rule","color":"#e8202a","strokeWidth":3},
"encoding":{"x":{"field":"v","type":"quantitative","scale":{"type":"log","domain":[1e4,1e7],"nice":false},"axis":null},"y":{"field":"a","type":"quantitative","scale":{"type":"log","domain":[1e-40,1e-28],"nice":false},"axis":null},"y2":{"field":"b"}}},
{"data":{"name":"lab"},"transform":[{"filter":"datum.p=='f'"}],"mark":{"type":"text","fontSize":28,"color":"black"},
"encoding":{"x":{"field":"x","type":"quantitative","scale":{"type":"log","domain":[1e4,1e7],"nice":false},"axis":null},"y":{"field":"y","type":"quantitative","scale":{"type":"log","domain":[1e-40,1e-28],"nice":false},"axis":null},"text":{"field":"t"}}}
],
"resolve":{"axis":{"x":"independent","y":"independent"}}
}
],
"config": {
"font": "Liberation Sans, DejaVu Sans, sans-serif",
"view": {"stroke": "black", "strokeWidth": 1.5},
"title": {"fontSize": 31, "fontWeight": "normal", "color": "black", "offset": 12},
"axis": {"labelFontSize": 25, "labelColor": "black", "titleFontSize": 26, "titleFontWeight": "normal", "titleColor": "black", "domain": false, "grid": false, "tickColor": "black", "tickWidth": 1.3, "labelOverlap": false, "labelBound": false}
}
}
